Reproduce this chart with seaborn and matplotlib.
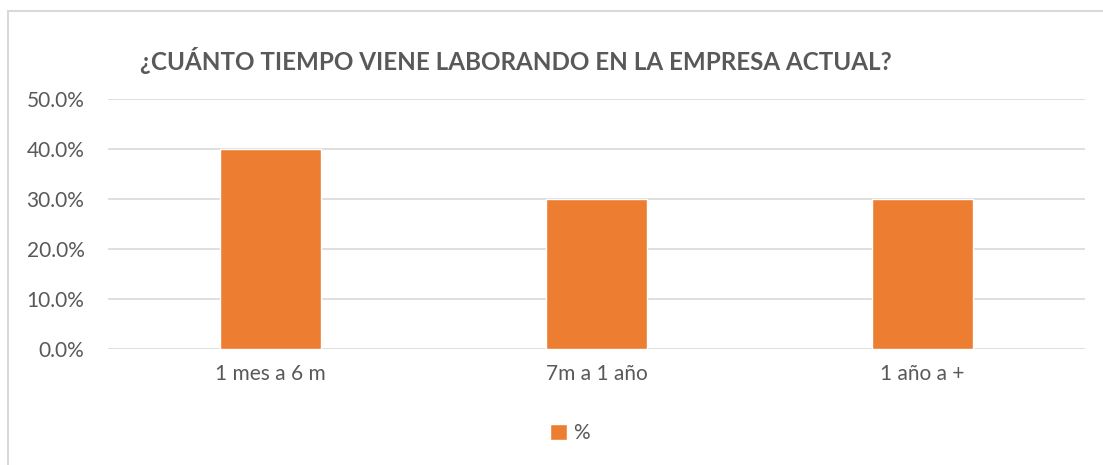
import numpy as np
import pandas as pd
import seaborn as sns
import matplotlib.pyplot as plt
from matplotlib.patches import Rectangle
from matplotlib.ticker import PercentFormatter

categorias = ['1 mes a 6 m', '7m a 1 año', '1 año a +']
porcentajes = [40.0, 30.0, 30.0]
serie = '%'
titulo = '¿CUÁNTO TIEMPO VIENE LABORANDO EN LA EMPRESA ACTUAL?'

sns.set_style('white')
plt.rcParams['font.family'] = ['Lato', 'DejaVu Sans']

df = pd.DataFrame({'categoria': categorias, 'valor': porcentajes, 'serie': serie})

fig = plt.figure(figsize=(11.03, 4.65), dpi=100)
ax = fig.add_axes([108 / 1103, 1 - 349 / 465, (1085 - 108) / 1103, 250 / 465])

sns.barplot(data=df, x='categoria', y='valor', hue='serie', palette=['#ED7D31'],
            width=0.31, ax=ax, saturation=1)

ax.set_ylim(0, 50)
ax.set_yticks(np.arange(0, 51, 10))
ax.yaxis.set_major_formatter(PercentFormatter(decimals=1))
ax.grid(axis='y', color='#d9d9d9', linewidth=1.2)
ax.set_axisbelow(True)
for s in ax.spines.values():
    s.set_visible(False)
ax.set_xlabel('')
ax.set_ylabel('')
ax.tick_params(axis='both', length=0, labelsize=15, labelcolor='#595959')
ax.tick_params(axis='y', pad=17)
ax.tick_params(axis='x', pad=11)

ax.legend(loc='center', bbox_to_anchor=(570 / 1103, 1 - 433 / 465),
          bbox_transform=fig.transFigure, frameon=False, fontsize=15,
          handlelength=0.8, handleheight=0.8, handletextpad=0.3,
          labelcolor='#595959')

fig.text(140 / 1103, 1 - 60 / 465, titulo, fontsize=17.4, fontweight='bold',
         color='#595959', va='center', ha='left')

# marco del gráfico
fig.patches.append(Rectangle((8 / 1103, -0.05), 1.2, 1 - 11 / 465 + 0.05,
                             transform=fig.transFigure, fill=False,
                             edgecolor='#d9d9d9', linewidth=1.5))

fig.savefig('out.png', dpi=100)
